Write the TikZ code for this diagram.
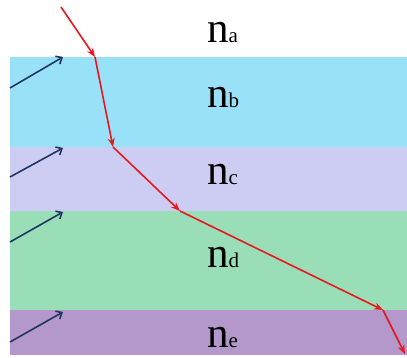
\documentclass[tikz,border=0pt]{standalone}
\usepackage{fontspec}
\setmainfont{Liberation Serif}
\usetikzlibrary{arrows.meta}
\definecolor{layerB}{HTML}{99E0F9}
\definecolor{layerC}{HTML}{CDCCF2}
\definecolor{layerD}{HTML}{9ADEB8}
\definecolor{layerE}{HTML}{B497CB}
\definecolor{rayRed}{HTML}{E8191E}
\definecolor{waveBlue}{HTML}{1F3763}
\newcommand{\idx}[1]{{\fontsize{43}{43}\selectfont n}{\fontsize{21}{21}\selectfont #1}}
\tikzset{
  ray/.style={-{Stealth[length=9pt,width=7pt]}, line width=1.6pt, draw=rayRed},
  wave/.style={-{Straight Barb[length=5pt,width=9pt]}, line width=1.6pt, draw=waveBlue},
  label/.style={anchor=base west, inner sep=0pt}
}

\begin{document}
\begin{tikzpicture}[x=1pt, y=-1pt]
\useasboundingbox (0,0) rectangle (407,358);

% --- layers ---
\fill[layerB] (10,57) rectangle (407,147);
\fill[layerC] (10,147) rectangle (407,211);
\fill[layerD] (10,211) rectangle (407,310);
\fill[layerE] (10,310) rectangle (407,355);

% --- indices ---
\node[label] (na) at (207,43) {\idx{a}};
\node[label] (nb) at (207,108) {\idx{b}};
\node[label] (nc) at (207,185) {\idx{c}};
\node[label] (nd) at (207,267) {\idx{d}};
\node[label] (ne) at (207,347) {\idx{e}};

% --- ray path ---
\coordinate (r0) at (61,7);
\coordinate (r1) at (95,57);
\coordinate (r2) at (113,147);
\coordinate (r3) at (180,211);
\coordinate (r4) at (383,310);
\coordinate (r5) at (405,354);
\draw[ray] (r0) -- (r1);
\draw[ray] (r1) -- (r2);
\draw[ray] (r2) -- (r3);
\draw[ray] (r3) -- (r4);
\draw[ray] (r4) -- (r5);

% --- wave arrows ---
\foreach \y/\t [count=\i] in {88/57, 177/148, 242/212, 342/312} {
  \coordinate (w\i) at (10,\y);
  \coordinate (t\i) at (63,\t);
  \draw[wave] (w\i) -- (t\i);
}

\end{tikzpicture}
\end{document}
